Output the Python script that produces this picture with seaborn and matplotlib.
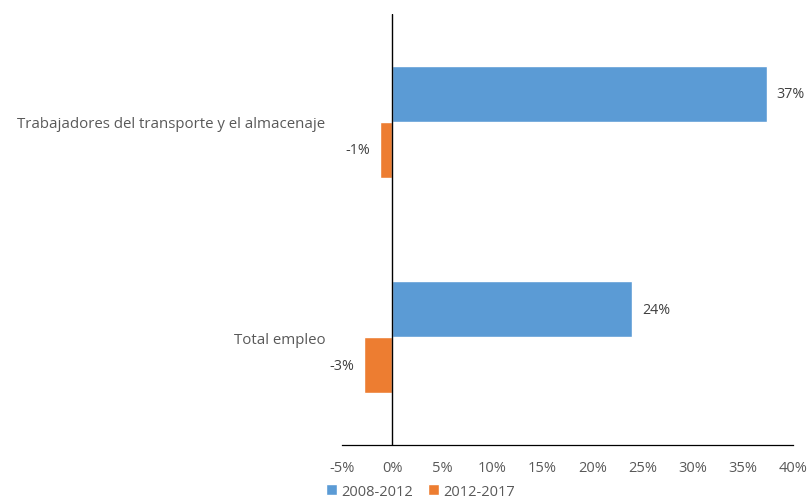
import pandas as pd
import seaborn as sns
import matplotlib.pyplot as plt
from matplotlib.patches import Patch

# data
categories = ['Trabajadores del transporte y el almacenaje', 'Total empleo']
periods = ['2008-2012', '2012-2017']
change_2008_2012 = [0.374, 0.240]
change_2012_2017 = [-0.012, -0.028]
x_ticks = [-0.05, 0.0, 0.05, 0.10, 0.15, 0.20, 0.25, 0.30, 0.35, 0.40]

colors = ['#5B9BD5', '#ED7D31']

df = pd.DataFrame({
    'categoria': categories * 2,
    'periodo': [periods[0]] * 2 + [periods[1]] * 2,
    'cambio': change_2008_2012 + change_2012_2017,
})

sns.set_style('white')
plt.rcParams['font.family'] = ['Open Sans', 'DejaVu Sans']

fig = plt.figure(figsize=(8.09, 5.02), dpi=100)
ax = fig.add_axes([0.4227, 0.1116, 0.557, 0.8585])

sns.barplot(data=df, y='categoria', x='cambio', hue='periodo', order=categories,
            hue_order=periods, palette=colors, width=0.52, orient='h',
            saturation=1, legend=False, ax=ax)

for cont in ax.containers:
    ax.bar_label(cont, labels=[f'{v * 100:.0f}%' for v in cont.datavalues],
                 padding=7, fontsize=10.3, color='#404040')

ax.set_xlim(-0.05, 0.40)
ax.set_ylim(1.5, -0.5)
ax.set_xticks(x_ticks)
ax.set_xticklabels([f'{t * 100:.0f}%' for t in x_ticks])
ax.set_xlabel('')
ax.set_ylabel('')

for s in ['left', 'top', 'right']:
    ax.spines[s].set_visible(False)
ax.spines['bottom'].set_color('#000000')
ax.spines['bottom'].set_linewidth(0.9)
ax.axvline(0, color='#000000', linewidth=1.0)

ax.tick_params(axis='x', length=0, pad=11, labelsize=10.5, labelcolor='#595959')
ax.tick_params(axis='y', length=0, pad=12, labelsize=10.8, labelcolor='#595959')

handles = [Patch(facecolor=c, label=p) for c, p in zip(colors, periods)]
fig.legend(handles=handles, loc='lower left', bbox_to_anchor=(0.387, -0.022),
           ncol=2, frameon=False, fontsize=10.5, handlelength=0.75, handleheight=0.75,
           handletextpad=0.3, columnspacing=1.0, labelcolor='#595959')

fig.savefig('out.png', dpi=100)
